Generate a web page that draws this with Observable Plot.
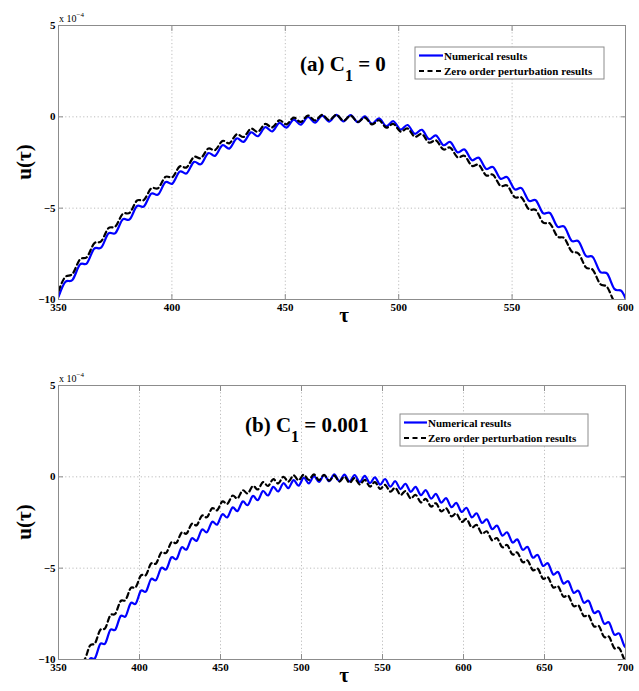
<!DOCTYPE html>
<html>
<head>
<meta charset="utf-8">
<script src="https://cdn.jsdelivr.net/npm/d3@7"></script>
<script src="https://cdn.jsdelivr.net/npm/@observablehq/plot@0.6"></script>
<style>
  html, body { margin: 0; padding: 0; background: #fff; }
  #chart { width: 639px; height: 691px; }
  #chart svg { display: block; }
</style>
</head>
<body>
<div id="chart"></div>
<script>
// ---------- data (u in units of 1e-4) ----------
// samples every half period of the fast oscillation (Δτ = π)
const tauStep = Math.PI;
const tauStartA = 350;
const tauStartB = 360;

const numericalA = [
  -9.86,-9.02,-8.91,-8.09,-8.01,-7.22,-7.16,-6.39,-6.36,-5.62,
  -5.61,-4.89,-4.90,-4.21,-4.25,-3.58,-3.65,-3.00,-3.09,-2.47,
  -2.59,-1.99,-2.13,-1.56,-1.73,-1.18,-1.37,-0.85,-1.06,-0.57,
  -0.80,-0.33,-0.59,-0.15,-0.43,-0.01,-0.32,0.07,-0.26,0.11,
  -0.25,0.10,-0.29,0.03,-0.38,-0.08,-0.51,-0.24,-0.70,-0.45,
  -0.93,-0.71,-1.22,-1.02,-1.55,-1.38,-1.94,-1.79,-2.37,-2.24,
  -2.85,-2.75,-3.38,-3.31,-3.96,-3.91,-4.59,-4.57,-5.27,-5.27,
  -6.00,-6.02,-6.78,-6.82,-7.60,-7.68,-8.48,-8.58,-9.41,-9.53,
  -10.38
];
const zeroOrderA = [
  -9.54,-8.75,-8.58,-7.81,-7.67,-6.93,-6.81,-6.10,-6.00,-5.32,
  -5.25,-4.59,-4.55,-3.92,-3.90,-3.29,-3.30,-2.72,-2.76,-2.20,
  -2.26,-1.74,-1.82,-1.32,-1.44,-0.96,-1.10,-0.65,-0.82,-0.39,
  -0.58,-0.19,-0.41,-0.04,-0.28,0.07,-0.20,0.11,-0.18,0.11,
  -0.21,0.06,-0.28,-0.04,-0.41,-0.19,-0.59,-0.39,-0.81,-0.64,
  -1.09,-0.94,-1.41,-1.29,-1.78,-1.69,-2.21,-2.14,-2.68,-2.63,
  -3.20,-3.18,-3.77,-3.77,-4.39,-4.42,-5.06,-5.11,-5.78,-5.85,
  -6.54,-6.65,-7.36,-7.49,-8.23,-8.38,-9.14,-9.32,-10.11,-10.31,
  -11.12
];
const numericalB = [
  -11.62,-10.82,-10.75,-9.97,-9.92,-9.16,-9.12,-8.38,-8.36,-7.63,
  -7.63,-6.92,-6.94,-6.24,-6.28,-5.60,-5.65,-4.99,-5.06,-4.41,
  -4.50,-3.87,-3.97,-3.37,-3.49,-2.89,-3.03,-2.46,-2.61,-2.05,
  -2.22,-1.68,-1.87,-1.35,-1.55,-1.05,-1.27,-0.78,-1.02,-0.55,
  -0.80,-0.35,-0.62,-0.18,-0.48,-0.05,-0.36,0.04,-0.28,0.10,
  -0.24,0.13,-0.23,0.12,-0.25,0.10,-0.29,0.05,-0.35,-0.03,
  -0.43,-0.12,-0.54,-0.24,-0.67,-0.38,-0.82,-0.55,-1.00,-0.73,
  -1.19,-0.94,-1.41,-1.17,-1.66,-1.43,-1.92,-1.70,-2.21,-2.00,
  -2.52,-2.33,-2.86,-2.67,-3.21,-3.04,-3.59,-3.43,-3.99,-3.84,
  -4.42,-4.28,-4.87,-4.74,-5.34,-5.22,-5.83,-5.72,-6.34,-6.25,
  -6.88,-6.80,-7.44,-7.37,-8.03,-7.97,-8.63,-8.58,-9.26,-9.22
];
const zeroOrderB = [
  -10.88,-10.12,-9.98,-9.24,-9.11,-8.39,-8.28,-7.58,-7.49,-6.81,
  -6.74,-6.09,-6.04,-5.40,-5.37,-4.75,-4.74,-4.14,-4.16,-3.58,
  -3.61,-3.05,-3.10,-2.57,-2.64,-2.12,-2.21,-1.72,-1.83,-1.35,
  -1.48,-1.03,-1.18,-0.74,-0.91,-0.50,-0.69,-0.29,-0.50,-0.13,
  -0.36,0.00,-0.26,0.08,-0.19,0.12,-0.17,0.13,-0.18,0.11,
  -0.21,0.07,-0.26,0.01,-0.33,-0.07,-0.42,-0.17,-0.53,-0.29,
  -0.66,-0.44,-0.81,-0.60,-0.99,-0.78,-1.18,-0.99,-1.40,-1.21,
  -1.63,-1.45,-1.89,-1.72,-2.16,-2.01,-2.46,-2.31,-2.77,-2.64,
  -3.11,-2.99,-3.47,-3.36,-3.85,-3.74,-4.25,-4.15,-4.67,-4.58,
  -5.11,-5.03,-5.57,-5.50,-6.05,-6.00,-6.55,-6.51,-7.07,-7.04,
  -7.61,-7.59,-8.18,-8.17,-8.76,-8.76,-9.37,-9.38,-9.99,-10.01
];

const xTicksA = [350, 400, 450, 500, 550, 600];
const xTicksB = [350, 400, 450, 500, 550, 600, 650, 700];
const yTicks = [-10, -5, 0, 5];
const legendLabels = ["Numerical results", "Zero order perturbation results"];
const panelTitles = [["(a) C", "1", " = 0"], ["(b) C", "1", " = 0.001"]];

// ---------- helpers ----------
const SERIF = "'Liberation Serif', 'Times New Roman', serif";
const toRows = (vals, start) => vals.map((u, i) => ({tau: start + i * tauStep, u}));

function panel({num, zero, start, xDomain, xTicks, height, marginTop, marginBottom, title, titlePos, legendPos}) {
  const AX = "#8c8c8c";
  const svg = Plot.plot({
    width: 639, height, marginTop, marginBottom, marginLeft: 58, marginRight: 14,
    style: {fontFamily: SERIF, fontWeight: "bold", fontSize: "11px", color: "#000", background: "#fff", overflow: "visible"},
    x: {domain: xDomain, label: null},
    y: {domain: [-10, 5], label: null},
    marks: [
      Plot.gridX(xTicks, {stroke: "#bdbdbd", strokeOpacity: 1, strokeDasharray: "1.2,2.4"}),
      Plot.gridY(yTicks, {stroke: "#bdbdbd", strokeOpacity: 1, strokeDasharray: "1.2,2.4"}),
      Plot.line(toRows(num, start), {x: "tau", y: "u", stroke: "#0000ff", strokeWidth: 2.2, curve: "natural", clip: true}),
      Plot.line(toRows(zero, start), {x: "tau", y: "u", stroke: "#000", strokeWidth: 2.2, strokeDasharray: "5,3.5", curve: "natural", clip: true}),
      Plot.frame({stroke: AX}),
      Plot.axisX(xTicks, {anchor: "bottom", tickSize: -5, tickPadding: 9, stroke: AX, fill: "#000"}),
      Plot.axisX(xTicks, {anchor: "top", tickSize: -5, tickFormat: () => "", stroke: AX}),
      Plot.axisY(yTicks, {anchor: "left", tickSize: -5, tickPadding: 8, stroke: AX, fill: "#000"}),
      Plot.axisY(yTicks, {anchor: "right", tickSize: -5, tickFormat: () => "", stroke: AX})
    ]
  });
  const s = d3.select(svg);
  const plotTop = marginTop, plotBottom = height - marginBottom;
  // exponent label
  const ex = s.append("text").attr("x", 59).attr("y", plotTop - 3).attr("text-anchor", "start")
    .attr("font-family", SERIF).attr("font-weight", "normal").attr("font-size", 10).attr("fill", "#000");
  ex.append("tspan").text("x 10");
  ex.append("tspan").attr("dy", -5).attr("font-size", 7).text("\u22124");
  // y label
  s.append("text").attr("transform", `translate(31,${(plotTop + plotBottom) / 2}) rotate(-90)`)
    .attr("text-anchor", "middle").attr("font-family", SERIF).attr("font-weight", "bold")
    .attr("font-size", 21).attr("fill", "#000").text("u(\u03c4)");
  // x label
  s.append("text").attr("x", 344).attr("y", plotBottom + 23).attr("text-anchor", "middle")
    .attr("font-family", SERIF).attr("font-weight", "bold").attr("font-size", 21).attr("fill", "#000").text("\u03c4");
  // panel title
  const t = s.append("text").attr("x", titlePos[0]).attr("y", titlePos[1]).attr("text-anchor", "start")
    .attr("font-family", SERIF).attr("font-weight", "bold").attr("font-size", 21).attr("fill", "#000");
  t.append("tspan").text(title[0]);
  t.append("tspan").attr("dy", 10).attr("font-size", 16).text(title[1]);
  t.append("tspan").attr("dy", -10).text(title[2]);
  // legend
  const [lx, ly, lw, lh, sampleW] = legendPos;
  const g = s.append("g").attr("transform", `translate(${lx},${ly})`);
  g.append("rect").attr("width", lw).attr("height", lh).attr("fill", "#fff").attr("stroke", "#8c8c8c").attr("stroke-width", 1);
  const styles = [{stroke: "#0000ff", dash: null}, {stroke: "#000", dash: "5,3.5"}];
  legendLabels.forEach((lab, i) => {
    const yy = 8.5 + i * 15.5;
    g.append("line").attr("x1", 4).attr("x2", 4 + sampleW).attr("y1", yy).attr("y2", yy)
      .attr("stroke", styles[i].stroke).attr("stroke-width", 2.2).attr("stroke-dasharray", styles[i].dash);
    g.append("text").attr("x", 5 + sampleW).attr("y", yy + 4).attr("text-anchor", "start").attr("font-family", SERIF)
      .attr("font-weight", "bold").attr("font-size", 11).attr("fill", "#000").text(lab);
  });
  return svg;
}

const chart = document.getElementById("chart");
chart.appendChild(panel({
  num: numericalA, zero: zeroOrderA, start: tauStartA, xDomain: [350, 600], xTicks: xTicksA,
  height: 345, marginTop: 25, marginBottom: 46, title: panelTitles[0], titlePos: [300, 71],
  legendPos: [415, 47, 189, 32, 24]
}));
chart.appendChild(panel({
  num: numericalB, zero: zeroOrderB, start: tauStartB, xDomain: [350, 700], xTicks: xTicksB,
  height: 346, marginTop: 40, marginBottom: 32, title: panelTitles[1], titlePos: [245, 87],
  legendPos: [400, 69, 188, 32, 23]
}));
</script>
</body>
</html>
